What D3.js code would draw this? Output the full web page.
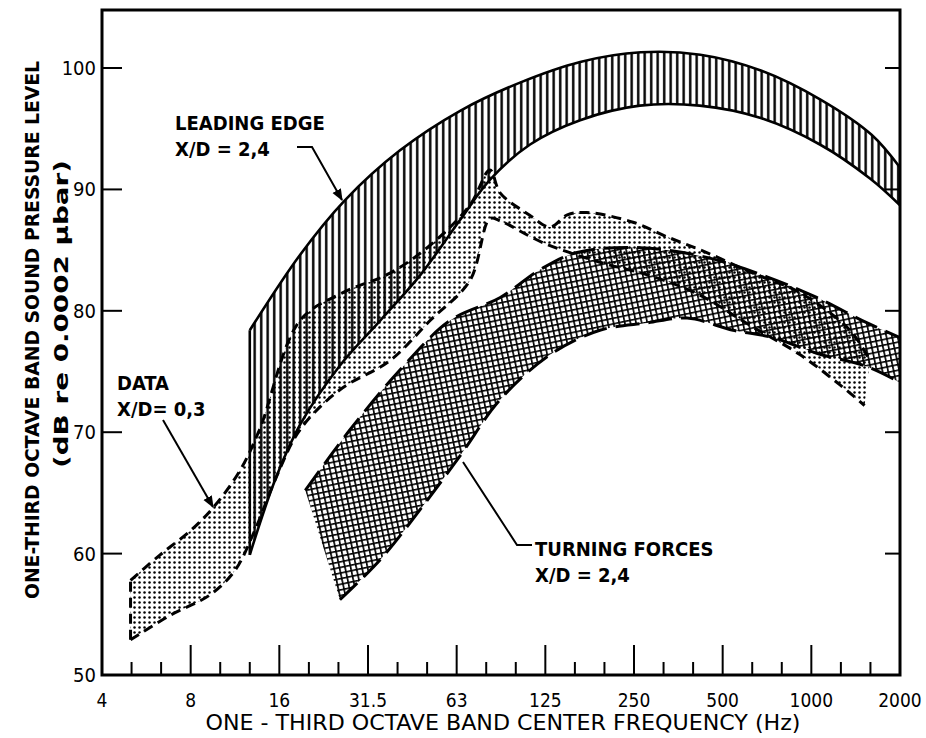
<!DOCTYPE html>
<html>
<head>
<meta charset="utf-8">
<script src="https://cdn.jsdelivr.net/npm/d3@7"></script>
<style>
  body { margin: 0; background: #fff; }
  text { font-family: 'DejaVu Sans Condensed', 'DejaVu Sans', sans-serif; fill: #000; }
</style>
</head>
<body>
<div id="chart"></div>
<script>
// Octave tick positions (Hz on a log2 axis) and their printed labels
const octaveTicks = [4, 8, 16, 32, 64, 128, 256, 512, 1024, 2048];
const octaveLabels = ['4', '8', '16', '31.5', '63', '125', '250', '500', '1000', '2000'];
const levelTicks = [50, 60, 70, 80, 90, 100];

// Leading edge, X/D = 2,4 (vertical hatch)
const leadUpperF = [12.7, 18.8, 26.7, 41, 66, 105, 168, 270, 430, 690, 1100, 1640, 2048];
const leadUpperDb = [78.4, 84.6, 89.1, 93.2, 96.5, 98.8, 100.5, 101.3, 101.1, 99.8, 97.4, 94.5, 91.8];
const leadLowerF = [12.7, 15.5, 18.8, 25.7, 35.2, 48, 65.8, 83.1, 113.6, 168, 268, 428, 685, 1095, 1620, 2048];
const leadLowerDb = [59.9, 66.1, 70.6, 75.5, 79.2, 82.9, 87.5, 90.8, 93.7, 95.7, 96.9, 96.9, 95.9, 93.7, 90.9, 88.7];

// Data, X/D = 0,3 (stipple)
const dataUpperF = [5, 6.3, 8, 9.7, 11.8, 13.7, 18.8, 26.3, 38, 52, 71, 83, 90, 113, 133, 152, 177, 254, 331, 452, 648, 936, 1385, 1620];
const dataUpperDb = [57.8, 59.9, 61.9, 64, 66.9, 70.2, 79.2, 81.5, 83.1, 85.4, 88.7, 91.6, 89.7, 87.9, 86.9, 87.9, 88.1, 87.3, 86.1, 84.8, 83.1, 81.5, 78.4, 75.9];
const dataLowerF = [5, 6.8, 9.3, 11.3, 13.2, 15.5, 18.8, 25.7, 38, 52, 71, 83, 90, 126, 196, 290, 428, 634, 936, 1281, 1553];
const dataLowerDb = [52.9, 54.9, 56.6, 58.6, 61.9, 66.1, 70.2, 73.5, 75.9, 79.2, 82.5, 87.6, 87.4, 85.6, 84, 82.9, 81.3, 78.8, 76.4, 73.9, 72.2];

// Turning forces, X/D = 2,4 (cross hatch)
const turnUpperF = [19.6, 27.8, 41, 60.8, 90, 123, 164, 268, 452, 724, 1068, 1585, 2048];
const turnUpperDb = [65.2, 70.2, 75.1, 79.2, 81.1, 83.4, 84.8, 85.2, 84.4, 82.8, 81.1, 79, 77.8];
const turnLowerF = [25.7, 35.2, 48, 65.9, 90, 133, 196, 283, 388, 555, 758, 1068, 1585, 2048];
const turnLowerDb = [56.2, 59.5, 63.6, 68.1, 72.7, 76.4, 78.4, 79, 79.4, 78.4, 77.8, 76.5, 75.4, 74.1];

const W = 926, H = 738;
const margin = { top: 10, left: 102, right: 26, bottom: 63 };
const width = W - margin.left - margin.right,
    height = H - margin.top - margin.bottom;

const svg = d3.select('#chart').append('svg')
    .attr('width', W)
    .attr('height', H);

const defs = svg.append('defs');

// vertical hatch
let p = defs.append('pattern').attr('id', 'vhatch')
    .attr('patternUnits', 'userSpaceOnUse').attr('width', 6.5).attr('height', 7);
p.append('line').attr('x1', 3.2).attr('x2', 3.2).attr('y1', 0).attr('y2', 7)
    .attr('stroke', '#000').attr('stroke-width', 2.4);

// stipple
p = defs.append('pattern').attr('id', 'dots')
    .attr('patternUnits', 'userSpaceOnUse').attr('width', 5).attr('height', 5);
p.append('circle').attr('cx', 2.5).attr('cy', 2.5).attr('r', 1.25).attr('fill', '#000');

// grid
p = defs.append('pattern').attr('id', 'grid')
    .attr('patternUnits', 'userSpaceOnUse').attr('width', 5.5).attr('height', 5.5)
    .attr('patternTransform', 'rotate(-12)');
p.append('path').attr('d', 'M0,0.8H5.5M0.8,0V5.5')
    .attr('stroke', '#000').attr('stroke-width', 1.7).attr('fill', 'none');

const g = svg.append('g')
    .attr('transform', 'translate(' + margin.left + ',' + margin.top + ')');

const x = d3.scaleLog().base(2).domain([4, 2048]).range([0, width]);
const y = d3.scaleLinear().domain([50, 104.78]).range([height, 0]);

const line = d3.line().x(d => x(d[0])).y(d => y(d[1])).curve(d3.curveCatmullRom);

function pts(fs, dbs) { return fs.map((f, i) => [f, dbs[i]]); }

function band(upF, upDb, loF, loDb, fill, dash, strokeW) {
    const up = pts(upF, upDb), lo = pts(loF, loDb);
    const d = line(up) + 'L' + line(lo.slice().reverse()).slice(1) + 'Z';
    g.append('path').attr('d', d).attr('fill', 'url(#' + fill + ')').attr('stroke', 'none');
    [up, lo].forEach(s => {
        g.append('path').attr('d', line(s))
            .attr('fill', 'none').attr('stroke', '#000')
            .attr('stroke-width', strokeW)
            .attr('stroke-dasharray', dash);
    });
    return { up, lo };
}

const lead = band(leadUpperF, leadUpperDb, leadLowerF, leadLowerDb, 'vhatch', null, 2.6);
// closed left end of the leading-edge band
g.append('path').attr('d', line([lead.lo[0], lead.up[0]]))
    .attr('stroke', '#000').attr('stroke-width', 2.6).attr('fill', 'none');

band(turnUpperF, turnUpperDb, turnLowerF, turnLowerDb, 'grid', '24,9', 3);
const data = band(dataUpperF, dataUpperDb, dataLowerF, dataLowerDb, 'dots', '10,6', 3);
g.append('path').attr('d', line([data.lo[0], data.up[0]]))
    .attr('stroke', '#000').attr('stroke-width', 3).attr('stroke-dasharray', '10,6').attr('fill', 'none');

// Frame
g.append('rect').attr('width', width).attr('height', height)
    .attr('fill', 'none').attr('stroke', '#000').attr('stroke-width', 3);

// X ticks: one-third octave, long ticks at each octave
const thirds = d3.range(0, 28).map(i => 4 * Math.pow(2, i / 3));
g.append('g').selectAll('line').data(thirds).join('line')
    .attr('x1', d => x(d)).attr('x2', d => x(d))
    .attr('y1', height)
    .attr('y2', (d, i) => height - (i % 3 === 0 ? 30 : 13))
    .attr('stroke', '#000').attr('stroke-width', 2);

g.append('g').selectAll('text').data(octaveTicks).join('text')
    .attr('x', d => x(d)).attr('y', height + 32)
    .attr('text-anchor', 'middle')
    .style('font-size', '19px')
    .text((d, i) => octaveLabels[i]);

// Y ticks, inward on both sides
g.append('g').selectAll('line').data(levelTicks.slice(1)).join('line')
    .attr('x1', 0).attr('x2', 20)
    .attr('y1', d => y(d)).attr('y2', d => y(d))
    .attr('stroke', '#000').attr('stroke-width', 2);
g.append('g').selectAll('line').data(levelTicks.slice(1)).join('line')
    .attr('x1', width).attr('x2', width - 15)
    .attr('y1', d => y(d)).attr('y2', d => y(d))
    .attr('stroke', '#000').attr('stroke-width', 2);

g.append('g').selectAll('text').data(levelTicks).join('text')
    .attr('x', -6).attr('y', d => y(d) + 7)
    .attr('text-anchor', 'end')
    .style('font-size', '20px')
    .text(d => d);

// Axis titles
svg.append('text')
    .attr('transform', 'translate(39,330) rotate(-90)')
    .attr('text-anchor', 'middle')
    .attr('textLength', 538).attr('lengthAdjust', 'spacingAndGlyphs')
    .style('font-size', '20px').style('font-weight', 'bold')
    .text('ONE-THIRD OCTAVE BAND SOUND PRESSURE LEVEL');
svg.append('text')
    .attr('transform', 'translate(68,314) rotate(-90)')
    .attr('text-anchor', 'middle')
    .attr('textLength', 308).attr('lengthAdjust', 'spacingAndGlyphs')
    .style('font-size', '19px').style('font-weight', 'bold')
    .text('(dB re 0.0002 \u03bcbar)');
svg.append('text')
    .attr('x', 503).attr('y', 730)
    .attr('text-anchor', 'middle')
    .attr('textLength', 595).attr('lengthAdjust', 'spacingAndGlyphs')
    .style('font-size', '21px')
    .text('ONE - THIRD OCTAVE BAND CENTER FREQUENCY (Hz)');

// Annotations
defs.append('marker').attr('id', 'arrow')
    .attr('viewBox', '0 0 10 10').attr('refX', 9).attr('refY', 5)
    .attr('markerWidth', 6).attr('markerHeight', 6).attr('orient', 'auto')
    .append('path').attr('d', 'M0,1L10,5L0,9Z').attr('fill', '#000');

const notes = [
    { lines: ['LEADING EDGE', 'X/D = 2,4'], x: 175, y: 130, path: 'M297,147L312,147L342,200' },
    { lines: ['DATA', 'X/D= 0,3'], x: 117, y: 390, path: 'M163,420L213,507' },
    { lines: ['TURNING FORCES', 'X/D = 2,4'], x: 535, y: 556, path: 'M532,545L517,545L463,462', noArrow: true }
];
notes.forEach(n => {
    const t = svg.append('text').attr('x', n.x).attr('y', n.y)
        .style('font-size', '20px').style('font-weight', 'bold');
    n.lines.forEach((s, i) => t.append('tspan').attr('x', n.x).attr('dy', i ? 26 : 0).text(s));
    svg.append('path').attr('d', n.path).attr('fill', 'none')
        .attr('stroke', '#000').attr('stroke-width', 2)
        .attr('marker-end', n.noArrow ? null : 'url(#arrow)');
});
</script>
</body>
</html>
